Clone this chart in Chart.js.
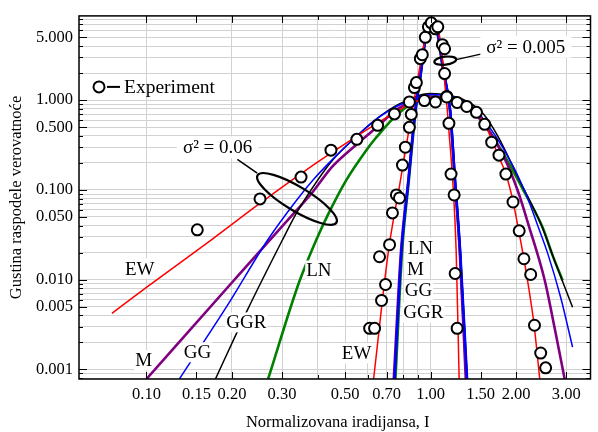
<!DOCTYPE html>
<html lang="sr">
<head>
    <meta charset="UTF-8">
    <title>Gustina raspodele verovatnoće</title>
    <script src="https://cdn.jsdelivr.net/npm/chart.js"></script>
    <style>
        body { margin: 0; background: #fff; }
        #wrap { width: 598px; height: 432px; }
    </style>
</head>
<body>
<div id="wrap"><canvas id="pdfChart" width="598" height="432"></canvas></div>

<script>
    // ---- axis ticks ----
    const xTickValues = [0.1, 0.15, 0.2, 0.3, 0.5, 0.7, 1.0, 1.5, 2.0, 3.0];
    const xTickLabels = ['0.10', '0.15', '0.20', '0.30', '0.50', '0.70', '1.00', '1.50', '2.00', '3.00'];
    const yTickValues = [0.001, 0.005, 0.01, 0.05, 0.1, 0.5, 1, 5];
    const yTickLabels = ['0.001', '0.005', '0.010', '0.050', '0.100', '0.500', '1.000', '5.000'];

    // ---- measured points (x, y) ----
    const expBroad = [
        [0.151, 0.0359], [0.251, 0.0793], [0.350, 0.139], [0.446, 0.277], [0.550, 0.366],
        [0.651, 0.524], [0.746, 0.703], [0.842, 0.955], [0.951, 0.99], [1.04, 0.955],
        [1.14, 1.085], [1.24, 0.943], [1.34, 0.851], [1.45, 0.731], [1.55, 0.538],
        [1.64, 0.340], [1.74, 0.244], [1.84, 0.150], [1.95, 0.0733], [2.05, 0.035],
        [2.13, 0.0171], [2.25, 0.0114], [2.32, 0.0031], [2.44, 0.00152], [2.54, 0.00104]
    ];
    const expNarrow = [
        [0.610, 0.00287], [0.635, 0.00287], [0.661, 0.0180], [0.672, 0.00586], [0.694, 0.00882],
        [0.717, 0.0245], [0.734, 0.0554], [0.758, 0.0878], [0.777, 0.0813], [0.796, 0.189],
        [0.815, 0.299], [0.842, 0.498], [0.855, 0.694], [0.877, 1.38], [0.891, 1.57],
        [0.920, 2.90], [0.935, 3.21], [0.958, 5.02], [0.982, 6.56], [1.005, 7.27],
        [1.04, 6.24], [1.06, 6.56], [1.10, 4.15], [1.12, 3.74], [1.12, 1.98],
        [1.14, 1.10], [1.16, 0.552], [1.18, 0.150], [1.21, 0.0878], [1.22, 0.0117], [1.24, 0.00287]
    ];

    // ---- model curves, sigma^2 = 0.06 ----
    const ewBroad = [
        [0.0756, 0.00421], [0.100, 0.00818], [0.1693, 0.0278], [0.2492, 0.0698], [0.3442, 0.1463],
        [0.4455, 0.2565], [0.549, 0.396], [0.6561, 0.566], [0.7706, 0.769], [0.8697, 0.943],
        [0.958, 1.044], [1.064, 1.071], [1.201, 0.992], [1.355, 0.830], [1.469, 0.694],
        [1.554, 0.538], [1.644, 0.357], [1.740, 0.232], [1.841, 0.150], [1.948, 0.0753],
        [2.045, 0.0341], [2.129, 0.0171], [2.216, 0.00798], [2.307, 0.00335], [2.364, 0.00164],
        [2.422, 0.000767]
    ];
    const ggBroad = [
        [0.1306, 0.000781], [0.1957, 0.00557], [0.2659, 0.0271], [0.336, 0.0753], [0.3884, 0.132],
        [0.4455, 0.2091], [0.549, 0.396], [0.6561, 0.643], [0.7706, 0.873], [1.0057, 1.157],
        [1.250, 1.044], [1.411, 0.830], [1.554, 0.581], [1.826, 0.270], [2.146, 0.0972],
        [2.383, 0.0398], [2.584, 0.0195], [2.869, 0.00633], [3.159, 0.00177]
    ];
    const ggrBroad = [
        [0.1749, 0.000781], [0.2122, 0.00294], [0.2263, 0.00454], [0.300, 0.0271], [0.336, 0.054],
        [0.373, 0.0921], [0.4455, 0.2038], [0.549, 0.396], [0.6561, 0.643], [0.7706, 0.896],
        [0.9976, 1.187], [1.302, 1.018], [1.529, 0.712], [1.726, 0.396], [2.061, 0.1255],
        [2.442, 0.0419], [2.755, 0.01509], [3.159, 0.00491]
    ];
    const mBroad = [
        [0.100, 0.000781], [0.200, 0.00929], [0.2702, 0.0271], [0.336, 0.0583], [0.3822, 0.0924],
        [0.4491, 0.1794], [0.545, 0.3146], [0.6403, 0.486], [0.7706, 0.809], [0.9815, 1.099],
        [1.250, 0.992], [1.554, 0.524], [1.826, 0.220], [2.028, 0.0972], [2.216, 0.0398],
        [2.522, 0.00977], [2.733, 0.00287], [2.963, 0.000781]
    ];
    const lnBroad = [
        [0.268, 0.000781], [0.3442, 0.00929], [0.3947, 0.0271], [0.4384, 0.0554], [0.5026, 0.1255],
        [0.5906, 0.270], [0.6403, 0.376], [0.7706, 0.712], [0.9815, 1.099], [1.250, 1.018],
        [1.554, 0.524], [1.841, 0.2258], [2.146, 0.0924], [2.481, 0.0378], [2.689, 0.0185],
        [2.915, 0.00977]
    ];

    // ---- model curves, sigma^2 = 0.005 ----
    const ewNarrow = [
        [0.630, 0.000781], [0.7108, 0.021], [0.777, 0.1105], [0.8489, 0.581], [0.877, 1.044],
        [0.966, 5.35], [1.014, 7.27], [1.073, 5.35], [1.135, 1.044], [1.153, 0.581],
        [1.230, 0.021], [1.260, 0.000781]
    ];
    const ggNarrow = [
        [0.7462, 0.000781], [0.7895, 0.021], [0.8354, 0.1255], [0.8839, 0.769], [0.9204, 1.83],
        [0.966, 5.49], [1.014, 7.46], [1.0555, 5.78], [1.108, 2.19], [1.172, 0.769],
        [1.220, 0.1255], [1.271, 0.021], [1.344, 0.000781]
    ];
    const ggrNarrow = [
        [0.748, 0.000781], [0.790, 0.021], [0.836, 0.1255], [0.884, 0.769], [0.920, 1.83],
        [0.966, 5.49], [1.014, 7.45], [1.056, 5.78], [1.109, 2.19], [1.173, 0.769],
        [1.221, 0.1255], [1.272, 0.021], [1.346, 0.000781]
    ];
    const mNarrow = [
        [0.742, 0.000781], [0.787, 0.021], [0.834, 0.1255], [0.883, 0.769], [0.919, 1.83],
        [0.965, 5.49], [1.014, 7.4], [1.055, 5.78], [1.107, 2.19], [1.170, 0.769],
        [1.218, 0.1255], [1.266, 0.021], [1.330, 0.000781]
    ];
    const lnNarrow = [
        [0.752, 0.000781], [0.794, 0.021], [0.838, 0.1255], [0.886, 0.769], [0.921, 1.83],
        [0.966, 5.49], [1.014, 7.4], [1.055, 5.78], [1.106, 2.19], [1.170, 0.769],
        [1.218, 0.1255], [1.268, 0.021], [1.338, 0.000781]
    ];

    // ---- annotations (data coordinates) ----
    const curveNotes = [
        { text: 'EW', x: 0.0947, y: 0.0133 },
        { text: 'M', x: 0.0978, y: 0.00127 },
        { text: 'GG', x: 0.1512, y: 0.00155 },
        { text: 'GGR', x: 0.2245, y: 0.00334 },
        { text: 'LN', x: 0.4044, y: 0.01264 },
        { text: 'LN', x: 0.920, y: 0.0226 },
        { text: 'M', x: 0.884, y: 0.01327 },
        { text: 'GG', x: 0.906, y: 0.00757 },
        { text: 'GGR', x: 0.943, y: 0.00431 },
        { text: 'EW', x: 0.549, y: 0.00151 }
    ];
    const sigmaNotes = [
        { text: 'σ² = 0.06', x: 0.178, y: 0.2985,
          ellipse: { x: 0.3387, y: 0.0793, rx: 46, ry: 12, rot: 31 },
          lead: [[0.2089, 0.2193], [0.2453, 0.154]] },
        { text: 'σ² = 0.005', x: 2.163, y: 3.94,
          ellipse: { x: 1.126, y: 2.754, rx: 11, ry: 4, rot: -7 },
          lead: [[1.23, 2.83], [1.529, 3.30]] }
    ];

    const serif = '"Liberation Serif", "Times New Roman", serif';
    const gridColor = '#d2d2d2';
    const xMin = 0.0579, xMax = 3.653;
    const yMin = 0.000781, yMax = 8.69;

    function near(a, b) { return Math.abs(a / b - 1) < 1e-6; }
    function indexIn(v, list) { return list.findIndex(t => near(v, t)); }

    // 1..9 multiples of each decade, inside [lo, hi]
    function decadeSteps(p0, p1, lo, hi) {
        const out = [];
        for (let p = p0; p <= p1; p++) {
            for (let m = 1; m <= 9; m++) {
                const v = +(m * Math.pow(10, p)).toPrecision(3);
                if (v >= lo * 0.9999 && v <= hi * 1.0001) out.push(v);
            }
        }
        return out;
    }
    const xGrid = decadeSteps(-1, 0, 0.1, 3);
    const yGrid = decadeSteps(-4, 0, yMin, yMax);

    function mergedTicks(grid, labels) {
        const all = grid.slice();
        labels.forEach(v => { if (indexIn(v, all) < 0) all.push(v); });
        return all.sort((a, b) => a - b);
    }

    const toXY = pts => pts.map(p => ({ x: p[0], y: p[1] }));

    function curve(label, pts, color, width) {
        return {
            label: label, data: toXY(pts), showLine: true,
            borderColor: color, borderWidth: width, fill: false,
            pointRadius: 0, pointHoverRadius: 0,
            cubicInterpolationMode: 'monotone'
        };
    }
    function markers(label, pts) {
        return {
            label: label, data: toXY(pts), showLine: false,
            pointRadius: 5.5, pointHoverRadius: 5.5, pointBorderWidth: 2,
            pointBackgroundColor: '#fff', pointBorderColor: '#000',
            backgroundColor: '#fff', borderColor: '#000'
        };
    }

    function line(ctx, x1, y1, x2, y2) {
        ctx.beginPath(); ctx.moveTo(x1, y1); ctx.lineTo(x2, y2); ctx.stroke();
    }

    function boxedText(ctx, text, cx, cy, padX, padY) {
        const w = ctx.measureText(text).width;
        ctx.fillStyle = '#fff';
        ctx.fillRect(cx - w / 2 - padX, cy - 10 - padY, w + padX * 2, 20 + padY * 2);
        ctx.fillStyle = '#000';
        ctx.fillText(text, cx, cy + 1);
    }

    // frame, inward ticks, notes, legend and axis titles
    const decorations = {
        id: 'decorations',
        afterDatasetsDraw(chart) {
            const { ctx, chartArea: a, scales } = chart;
            const sx = v => scales.x.getPixelForValue(v);
            const sy = v => scales.y.getPixelForValue(v);
            ctx.save();
            ctx.strokeStyle = '#000';

            // ticks pointing inward on all four sides
            ctx.lineWidth = 1;
            mergedTicks(xGrid, xTickValues).forEach(v => {
                const len = indexIn(v, xTickValues) >= 0 ? 7 : 4;
                const px = Math.round(sx(v)) + 0.5;
                line(ctx, px, a.bottom, px, a.bottom - len);
                line(ctx, px, a.top, px, a.top + len);
            });
            mergedTicks(yGrid, yTickValues).forEach(v => {
                const len = indexIn(v, yTickValues) >= 0 ? 8 : 4;
                const py = Math.round(sy(v)) + 0.5;
                line(ctx, a.left, py, a.left + len, py);
                line(ctx, a.right, py, a.right - len, py);
            });
            ctx.lineWidth = 1.5;
            ctx.strokeRect(a.left, a.top, a.right - a.left, a.bottom - a.top);

            // ellipses + leader lines + sigma labels
            ctx.font = '19px ' + serif;
            ctx.textAlign = 'center';
            ctx.textBaseline = 'middle';
            sigmaNotes.forEach(n => {
                const e = n.ellipse;
                ctx.lineWidth = 2.2;
                ctx.beginPath();
                ctx.ellipse(sx(e.x), sy(e.y), e.rx, e.ry, e.rot * Math.PI / 180, 0, Math.PI * 2);
                ctx.stroke();
                ctx.lineWidth = 1.5;
                line(ctx, sx(n.lead[0][0]), sy(n.lead[0][1]), sx(n.lead[1][0]), sy(n.lead[1][1]));
                boxedText(ctx, n.text, sx(n.x), sy(n.y), 6, 1);
            });

            // curve names
            curveNotes.forEach(n => boxedText(ctx, n.text, sx(n.x), sy(n.y), 1, 0));

            // legend
            const lx = a.left + 20, ly = a.top + 71;
            ctx.lineWidth = 2;
            ctx.fillStyle = '#fff';
            ctx.beginPath(); ctx.arc(lx, ly, 5.5, 0, Math.PI * 2); ctx.fill(); ctx.stroke();
            line(ctx, lx + 8, ly, lx + 21, ly);
            ctx.fillStyle = '#000';
            ctx.textAlign = 'left';
            ctx.font = '19.5px ' + serif;
            ctx.fillText('Experiment', lx + 25, ly + 1);

            // axis titles
            ctx.font = '16.5px ' + serif;
            ctx.textAlign = 'center';
            ctx.fillText('Normalizovana iradijansa, I', (a.left + a.right) / 2 + 3, 423);
            ctx.translate(17, (a.top + a.bottom) / 2);
            ctx.rotate(-Math.PI / 2);
            ctx.fillText('Gustina raspodele verovatnoće', 0, 0);
            ctx.restore();
        }
    };

    const tickFont = { family: serif, size: 16.5 };

    new Chart(document.getElementById('pdfChart').getContext('2d'), {
        type: 'scatter',
        data: {
            datasets: [
                markers('Experiment 0.06', expBroad),
                markers('Experiment 0.005', expNarrow),
                curve('EW 0.06', ewBroad, '#ff0000', 1.5),
                curve('EW 0.005', ewNarrow, '#ff0000', 1.5),
                curve('GG 0.06', ggBroad, '#0000ff', 1.5),
                curve('GG 0.005', ggNarrow, '#0000ff', 2.5),
                curve('GGR 0.06', ggrBroad, '#000000', 1.5),
                curve('GGR 0.005', ggrNarrow, '#000000', 1.5),
                curve('M 0.06', mBroad, '#800080', 2.6),
                curve('M 0.005', mNarrow, '#800080', 2.6),
                curve('LN 0.06', lnBroad, '#008000', 2.6),
                curve('LN 0.005', lnNarrow, '#008000', 2.6)
            ]
        },
        options: {
            responsive: false,
            animation: false,
            events: [],
            layout: { padding: { top: 14, right: 5, left: 0, bottom: 0 } },
            plugins: { legend: { display: false }, tooltip: { enabled: false } },
            scales: {
                x: {
                    type: 'logarithmic', position: 'bottom', min: xMin, max: xMax,
                    afterFit: s => { s.height = 53; },
                    afterBuildTicks: s => { s.ticks = mergedTicks(xGrid, xTickValues).map(v => ({ value: v })); },
                    border: { display: false },
                    grid: {
                        drawTicks: false, lineWidth: 1,
                        color: c => (c.tick && indexIn(c.tick.value, xGrid) >= 0) ? gridColor : 'rgba(0,0,0,0)'
                    },
                    ticks: {
                        autoSkip: false, maxRotation: 0, minRotation: 0, padding: 6,
                        color: '#000', font: tickFont,
                        callback: v => { const i = indexIn(v, xTickValues); return i >= 0 ? xTickLabels[i] : ''; }
                    }
                },
                y: {
                    type: 'logarithmic', position: 'left', min: yMin, max: yMax,
                    afterFit: s => { s.width = 79; },
                    afterBuildTicks: s => {
                        s.ticks = [yMin].concat(mergedTicks(yGrid, yTickValues), [yMax]).map(v => ({ value: v }));
                    },
                    border: { display: false },
                    grid: {
                        drawTicks: false, lineWidth: 1,
                        color: c => (c.tick && indexIn(c.tick.value, yGrid) >= 0) ? gridColor : 'rgba(0,0,0,0)'
                    },
                    ticks: {
                        autoSkip: false, padding: 6, color: '#000', font: tickFont,
                        callback: v => {
                            if (near(v, yMin) || near(v, yMax)) return null;
                            const i = indexIn(v, yTickValues);
                            return i >= 0 ? yTickLabels[i] : '';
                        }
                    }
                }
            }
        },
        plugins: [decorations]
    });
</script>

</body>
</html>
